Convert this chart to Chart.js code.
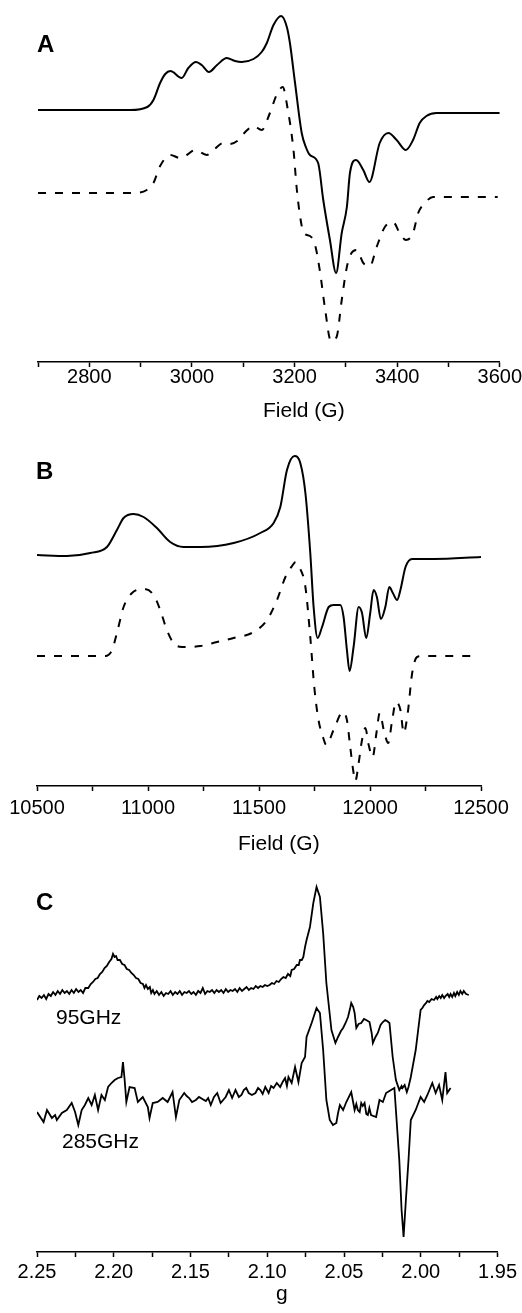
<!DOCTYPE html>
<html>
<head>
<meta charset="utf-8">
<script src="https://cdn.jsdelivr.net/npm/chart.js@4.4.1/dist/chart.umd.min.js"></script>
<style>
    body { margin: 0; background: #fff; width: 522px; height: 1313px; position: relative; overflow: hidden;
           font-family: "Liberation Sans", Arial, sans-serif; }
    .panel { position: absolute; left: 0; width: 522px; }
    .lbl { position: absolute; line-height: 1; color: #000; white-space: nowrap; }
    .letter { font-weight: bold; font-size: 24px; }
    .freq, .axt { font-size: 21px; }
</style>
</head>
<body>
<div class="panel" style="top:0;height:430px"><canvas id="chartA" width="522" height="430"></canvas></div>
<div class="panel" style="top:430px;height:430px"><canvas id="chartB" width="522" height="430"></canvas></div>
<div class="panel" style="top:860px;height:453px"><canvas id="chartC" width="522" height="453"></canvas></div>

<div class="lbl letter" style="left:37px;top:32px">A</div>
<div class="lbl letter" style="left:36px;top:459px">B</div>
<div class="lbl letter" style="left:36px;top:890px">C</div>
<div class="lbl axt" style="left:263px;top:399px">Field (G)</div>
<div class="lbl axt" style="left:238px;top:832px">Field (G)</div>
<div class="lbl axt" style="left:276px;top:1282px">g</div>
<div class="lbl freq" style="left:56px;top:1006px">95GHz</div>
<div class="lbl freq" style="left:62px;top:1130px">285GHz</div>

<script>
// panel A: X-band, field (G) vs intensity (a.u., 0 = baseline of each trace)
const fieldA_solid = [2700, 2800, 2880, 2913, 2925, 2938, 2948, 2958, 2980, 2993, 3008, 3019, 3033, 3049, 3068, 3084, 3097,
    3120, 3136, 3146, 3159, 3174, 3185, 3191, 3201, 3214, 3222, 3230, 3246, 3256, 3269, 3281, 3292,
    3302, 3308, 3320, 3334, 3346, 3366, 3383, 3399, 3417, 3431, 3444, 3457, 3477, 3600];
const intA_solid = [0, 0, 0, 3, 10, 27, 36, 39, 32, 42, 48, 45, 38, 45, 52, 49, 48,
    51, 58, 67, 85, 94, 83, 67, 27, -23, -37, -45, -53, -90, -130, -163, -123,
    -97, -63, -50, -60, -72, -33, -23, -30, -40, -30, -13, -6, -3, -3];
const fieldA_dash = [2700, 2886, 2912, 2925, 2938, 2958, 2977, 2990, 3006, 3029, 3042, 3061, 3074, 3091, 3104, 3120,
    3136, 3152, 3165, 3177, 3186, 3198, 3204, 3211, 3218, 3230, 3240, 3250, 3259, 3271, 3282, 3292,
    3302, 3311, 3321, 3334, 3347, 3360, 3376, 3392, 3405, 3417, 3431, 3441, 3454, 3470, 3596];
const intA_dash = [0, 0, 3, 10, 27, 38, 35, 38, 43, 38, 43, 50, 49, 53, 61, 67,
    63, 80, 98, 106, 86, 43, 6, -24, -40, -43, -52, -80, -114, -148, -144, -107,
    -74, -60, -57, -70, -73, -54, -34, -29, -40, -47, -40, -20, -10, -4, -4];

// panel B: Q-band
const fieldB_solid = [10500, 10635, 10740, 10815, 10860, 10890, 10935, 10980, 11040, 11100, 11160, 11236, 11386, 11506, 11566, 11596,
    11626, 11660, 11686, 11709, 11731, 11746, 11764, 11784, 11814, 11836, 11866, 11881, 11896, 11908, 11926, 11949,
    11964, 11983, 12001, 12016, 12031, 12049, 12069, 12087, 12103, 12122, 12137, 12160, 12190, 12287, 12500];
const intB_solid = [0, -1, 2, 8, 25, 37, 41, 38, 27, 13, 8, 8, 12, 22, 32, 48,
    85, 99, 92, 62, 2, -52, -83, -72, -52, -50, -50, -62, -95, -116, -92, -52,
    -58, -83, -58, -35, -42, -64, -52, -32, -38, -45, -35, -12, -4, -4, -2];
const fieldB_dash = [10500, 10808, 10838, 10860, 10890, 10928, 10980, 11025, 11055, 11085, 11115, 11153, 11236, 11311, 11386, 11476,
    11536, 11581, 11619, 11649, 11665, 11679, 11709, 11731, 11749, 11768, 11788, 11803, 11836, 11878, 11896, 11911,
    11924, 11934, 11949, 11964, 11979, 11994, 12012, 12029, 12044, 12062, 12082, 12100, 12117, 12137, 12152, 12170,
    12190, 12212, 12242, 12475];
const intB_dash = [0, 0, 6, 23, 49, 63, 67, 61, 46, 26, 13, 9, 10, 14, 18, 24,
    36, 56, 79, 90, 94, 90, 69, 19, -31, -64, -81, -89, -74, -56, -64, -91,
    -114, -125, -107, -84, -72, -89, -101, -77, -57, -74, -87, -64, -46, -54, -77, -57,
    -17, -1, 0, 0];

// panel C: high field, g value
const g95 = [2.2500, 2.2485, 2.2470, 2.2455, 2.2440, 2.2425, 2.2410, 2.2395, 2.2380, 2.2365,
    2.2350, 2.2335, 2.2320, 2.2305, 2.2290, 2.2275, 2.2260, 2.2245, 2.2230, 2.2215,
    2.2200, 2.2185, 2.2166, 2.2150, 2.2135, 2.2120, 2.2105, 2.2090, 2.2075, 2.2060,
    2.2045, 2.2030, 2.2015, 2.2005, 2.1995, 2.1985, 2.1975, 2.1960, 2.1945, 2.1930,
    2.1915, 2.1900, 2.1885, 2.1870, 2.1855, 2.1840, 2.1825, 2.1810, 2.1800, 2.1790,
    2.1778, 2.1765, 2.1756, 2.1745, 2.1735, 2.1720, 2.1705, 2.1690, 2.1675, 2.1660,
    2.1645, 2.1630, 2.1615, 2.1600, 2.1585, 2.1570, 2.1555, 2.1540, 2.1525, 2.1510,
    2.1495, 2.1480, 2.1465, 2.1450, 2.1435, 2.1420, 2.1405, 2.1390, 2.1375, 2.1360,
    2.1345, 2.1330, 2.1315, 2.1300, 2.1285, 2.1270, 2.1255, 2.1240, 2.1225, 2.1210,
    2.1195, 2.1180, 2.1165, 2.1150, 2.1135, 2.1120, 2.1105, 2.1090, 2.1075, 2.1060,
    2.1045, 2.1030, 2.1015, 2.1000, 2.0985, 2.0970, 2.0955, 2.0940, 2.0925, 2.0910,
    2.0895, 2.0880, 2.0865, 2.0850, 2.0841, 2.0825, 2.0808, 2.0795, 2.0787, 2.0775,
    2.0765, 2.0754, 2.0744, 2.0722, 2.0700, 2.0679, 2.0657, 2.0636, 2.0615, 2.0582,
    2.0556, 2.0539, 2.0520, 2.0506, 2.0490, 2.0474, 2.0460, 2.0453, 2.0440, 2.0431,
    2.0420, 2.0405, 2.0388, 2.0370, 2.0356, 2.0334, 2.0320, 2.0312, 2.0295, 2.0280,
    2.0262, 2.0247, 2.0232, 2.0220, 2.0204, 2.0183, 2.0162, 2.0140, 2.0125, 2.0119,
    2.0105, 2.0091, 2.0080, 2.0065, 2.0033, 2.0001, 1.9990, 1.9978, 1.9965, 1.9957,
    1.9945, 1.9930, 1.9914, 1.9900, 1.9892, 1.9880, 1.9870, 1.9860, 1.9848, 1.9839,
    1.9825, 1.9815, 1.9806, 1.9795, 1.9784, 1.9775, 1.9763, 1.9752, 1.9742, 1.9730,
    1.9720, 1.9705, 1.9687];
const int95 = [-7, -3, -5, -2, -6, -1, -3, 1, -2, 2,
    -1, 3, 0, 2, -1, 3, 0, 4, 1, 3,
    0, 5, 5, 9, 11, 14, 15, 19, 21, 25,
    27, 31, 34, 39, 36, 37, 33, 33, 29, 28,
    24, 23, 20, 18, 15, 14, 10, 9, 5, 8,
    4, 6, 0, 3, -1, 2, -2, 1, -3, 0,
    -1, 2, -2, 1, -1, 2, -2, 1, 0, 2,
    -1, 1, -2, 2, 0, 5, -1, 2, 1, 3,
    0, 3, 1, 3, 0, 4, 1, 3, 2, 4,
    1, 5, 2, 4, 6, 3, 5, 4, 7, 5,
    7, 6, 8, 7, 8, 10, 9, 12, 11, 14,
    16, 15, 19, 17, 23, 24, 28, 28, 33, 33,
    36, 46, 53, 66, 90, 106, 96, 60, 10, -37,
    -50, -44, -38, -35, -30, -24, -15, -10, -14, -20,
    -35, -31, -30, -26, -27, -29, -40, -50, -44, -40,
    -32, -29, -27, -28, -30, -64, -87, -97, -93, -95,
    -92, -99, -94, -84, -57, -17, -15, -12, -10, -8,
    -9, -6, -7, -4, -6, -3, -5, -2, -5, -3,
    -1, -4, -1, -4, 0, -3, 1, -2, 2, -1,
    2, -1, -2];
const g285 = [2.2500, 2.2457, 2.2435, 2.2403, 2.2382, 2.2371, 2.2338, 2.2306, 2.2274, 2.2252,
    2.2231, 2.2209, 2.2188, 2.2166, 2.2144, 2.2123, 2.2102, 2.2080, 2.2058, 2.2037,
    2.2015, 2.1994, 2.1972, 2.1950, 2.1940, 2.1929, 2.1918, 2.1897, 2.1864, 2.1843,
    2.1811, 2.1778, 2.1767, 2.1746, 2.1714, 2.1681, 2.1649, 2.1617, 2.1595, 2.1573,
    2.1541, 2.1525, 2.1509, 2.1490, 2.1465, 2.1445, 2.1423, 2.1400, 2.1385, 2.1368,
    2.1347, 2.1326, 2.1304, 2.1271, 2.1250, 2.1229, 2.1207, 2.1185, 2.1168, 2.1153,
    2.1137, 2.1121, 2.1100, 2.1077, 2.1060, 2.1045, 2.1030, 2.1013, 2.0991, 2.0975,
    2.0959, 2.0938, 2.0916, 2.0900, 2.0884, 2.0872, 2.0862, 2.0841, 2.0819, 2.0797,
    2.0776, 2.0754, 2.0744, 2.0711, 2.0679, 2.0657, 2.0636, 2.0615, 2.0593, 2.0572,
    2.0550, 2.0539, 2.0527, 2.0506, 2.0485, 2.0453, 2.0431, 2.0420, 2.0410, 2.0398,
    2.0388, 2.0378, 2.0366, 2.0355, 2.0345, 2.0335, 2.0324, 2.0291, 2.0269, 2.0247,
    2.0226, 2.0194, 2.0172, 2.0162, 2.0140, 2.0125, 2.0112, 2.0097, 2.0080, 2.0065,
    2.0033, 2.0001, 1.9978, 1.9957, 1.9925, 1.9903, 1.9881, 1.9860, 1.9839, 1.9828,
    1.9806];
const int285 = [-12, -22, -10, -18, -15, -20, -13, -10, -3, -12,
    -25, -10, -5, 2, -5, 5, -10, 5, 0, 13,
    17, 20, 22, 23, 38, 20, -2, 13, 12, -2,
    3, -7, -18, -3, -2, 2, -2, 8, -17, 0,
    7, 4, 2, -2, 0, 3, 1, -1, 2, -5,
    3, 7, -3, 3, 10, 2, 10, 3, 5, 10,
    12, 7, 5, 7, 12, 10, 6, 13, 7, 14,
    12, 17, 13, 18, 22, 14, 23, 17, 33, 18,
    37, 43, 63, 77, 92, 87, 50, 0, -20, -25,
    -23, -13, -5, -10, -2, 8, -10, -4, -10, -12,
    -3, -6, -3, -14, -15, -8, -15, -17, 0, -2,
    7, 10, 12, -10, -60, -110, -137, -100, -60, -20,
    -10, 3, -2, 5, 17, 7, 15, 0, 28, 7,
    12];

const FONT = "'Liberation Sans', Arial, sans-serif";
Chart.defaults.font.family = FONT;
Chart.defaults.color = '#000';

function trace(xs, ys, offset, opts = {}) {
    return Object.assign({
        data: xs.map((x, i) => ({x, y: ys[i] + offset})),
        borderColor: '#000',
        borderWidth: 2,
        pointRadius: 0,
        fill: false,
        cubicInterpolationMode: 'monotone'
    }, opts);
}

function makePanel(id, {datasets, x, ticks, yMax, pad, axisH}) {
    new Chart(document.getElementById(id), {
        type: 'line',
        data: {datasets},
        options: {
            responsive: false,
            animation: false,
            layout: {padding: pad},
            plugins: {legend: {display: false}, tooltip: {enabled: false}},
            scales: {
                y: {display: false, min: 0, max: yMax},
                x: Object.assign({
                    type: 'linear',
                    border: {display: true, color: '#000', width: 1.5},
                    grid: {display: true, drawOnChartArea: false, drawTicks: true, tickLength: 5, tickColor: '#000', tickWidth: 1.5},
                    ticks: Object.assign({autoSkip: false, maxRotation: 0, color: '#000', font: {size: 20, lineHeight: 1}}, ticks),
                    afterFit: s => { s.height = axisH; }
                }, x)
            }
        }
    });
}

makePanel('chartA', {
    datasets: [
        trace(fieldA_solid, intA_solid, 252),
        trace(fieldA_dash, intA_dash, 169, {borderDash: [8, 9]})
    ],
    x: {min: 2700, max: 3600},
    ticks: {padding: 0, stepSize: 100, callback: v => v % 200 === 0 ? String(v) : ''},
    yMax: 352, pad: {top: 10, left: 38, right: 22, bottom: 0}, axisH: 68
});

makePanel('chartB', {
    datasets: [
        trace(fieldB_solid, intB_solid, 231),
        trace(fieldB_dash, intB_dash, 130, {borderDash: [8, 9]})
    ],
    x: {min: 10500, max: 12500},
    ticks: {padding: 7, stepSize: 250, callback: v => v % 500 === 0 ? String(v) : ''},
    yMax: 346, pad: {top: 10, left: 37, right: 41, bottom: 0}, axisH: 74
});

makePanel('chartC', {
    datasets: [
        trace(g95, int95, 259, {cubicInterpolationMode: 'default', tension: 0, borderWidth: 1.8}),
        trace(g285, int285, 152, {cubicInterpolationMode: 'default', tension: 0, borderWidth: 1.8})
    ],
    x: {min: 1.95, max: 2.25, reverse: true},
    ticks: {padding: 5, stepSize: 0.025, callback: v => Math.round(v * 1000) % 50 === 0 ? v.toFixed(2) : ''},
    yMax: 382, pad: {top: 10, left: 37, right: 21, bottom: 0}, axisH: 61
});
</script>
</body>
</html>
